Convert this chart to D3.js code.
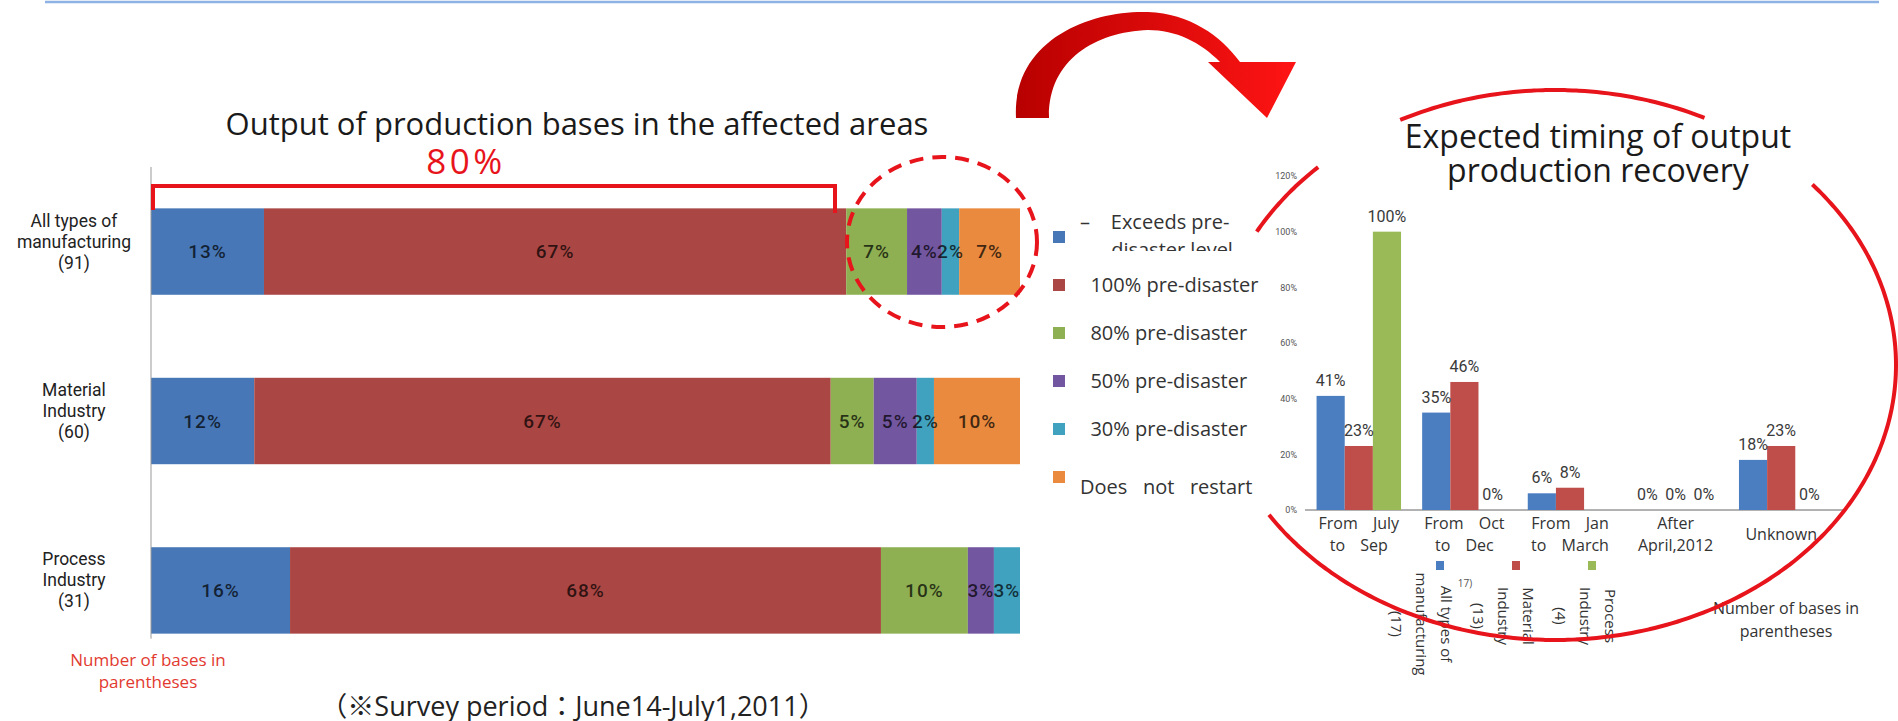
<!DOCTYPE html>
<html>
<head>
<meta charset="utf-8">
<script src="https://cdnjs.cloudflare.com/ajax/libs/d3/7.8.5/d3.min.js"></script>
<style>
body { margin: 0; background: #fff; }
text { font-family: "Open Sans", sans-serif; }
.narrow { font-family: Roboto, sans-serif; }
</style>
</head>
<body>
<div id="chart"></div>
<script>
// left chart: output level of production bases (% of bases)
var industryLabels = ["All types of\nmanufacturing\n(91)", "Material\nIndustry\n(60)", "Process\nIndustry\n(31)"];
var levelLabels = ["–    Exceeds pre-\n      disaster level", "  100% pre-disaster", "  80% pre-disaster", "  50% pre-disaster", "  30% pre-disaster", "Does   not   restart"];
var exceedsPct = [13, 12, 16];
var level100Pct = [67, 67, 68];
var level80Pct = [7, 5, 10];
var level50Pct = [4, 5, 3];
var level30Pct = [2, 2, 3];
var noRestartPct = [7, 10, 0];
var levelColors = ["#4777b6", "#aa4643", "#8eb052", "#7356a0", "#41a2bf", "#e98a3e"];

// right chart: expected timing of output recovery (% of bases)
var periodLabels = ["From July\nto Sep", "From Oct\nto Dec", "From Jan\nto March", "After\nApril,2012", "Unknown"];
var groupLabels = ["All types of\nmanufacturing\n(17)", "Material\nIndustry\n(13)", "Process\nIndustry\n(4)"];
var allTypesPct = [41, 35, 6, 0, 18];
var materialPct = [23, 46, 8, 0, 23];
var processPct = [100, 0, null, 0, 0];
var recoveryTicks = [0, 20, 40, 60, 80, 100, 120];
var groupColors = ["#4a7ec0", "#bf4d4a", "#9aba58"];

var svgWidth = 1898;
var svgHeight = 721;
var red = "#e8141c";

var svg = d3.select("#chart")
    .append("svg")
    .attr("width", svgWidth)
    .attr("height", svgHeight);

var defs = svg.append("defs");
var grad = defs.append("linearGradient").attr("id", "arrowGrad")
    .attr("x1", 0).attr("x2", 1).attr("y1", 0).attr("y2", 0);
grad.append("stop").attr("offset", "0%").attr("stop-color", "#b80000");
grad.append("stop").attr("offset", "100%").attr("stop-color", "#ff1414");

defs.append("clipPath").attr("id", "legendClip")
    .append("rect").attr("x", 1000).attr("y", 200).attr("width", 300).attr("height", 51);

// slide frame line at top
svg.append("line")
    .attr("x1", 45).attr("x2", 1879).attr("y1", 2).attr("y2", 2)
    .attr("stroke", "#8db2e3").attr("stroke-width", 2.5);

function multiLine(sel, str, x, y, step) {
    var lines = str.split("\n");
    lines.forEach(function (l, i) {
        sel.append("tspan").attr("x", x).attr("y", y + i * step).text(l);
    });
}

// ---------- left chart ----------
var rows = industryLabels.map(function (c, i) {
    var r = { cat: c };
    [exceedsPct, level100Pct, level80Pct, level50Pct, level30Pct, noRestartPct].forEach(function (s, j) {
        r[j] = s[i];
    });
    return r;
});

var stacked = d3.stack()
    .keys(d3.range(levelLabels.length))
    .offset(d3.stackOffsetExpand)(rows);

var xL = d3.scaleLinear().domain([0, 1]).range([151, 1020]);
var yL = d3.scaleBand().domain(industryLabels).range([166, 676])
    .paddingInner(0.49).paddingOuter(0.25);

var left = svg.append("g");

left.append("text")
    .attr("x", 577).attr("y", 135)
    .attr("text-anchor", "middle")
    .attr("font-size", 31).attr("fill", "#1a1a1a")
    .text("Output of production bases in the affected areas");

var seriesG = left.selectAll(".series")
    .data(stacked)
    .enter()
    .append("g")
    .attr("fill", d => levelColors[d.key]);

seriesG.selectAll("rect")
    .data(d => d)
    .enter()
    .append("rect")
    .attr("x", d => xL(d[0]))
    .attr("y", d => yL(d.data.cat))
    .attr("width", d => xL(d[1]) - xL(d[0]))
    .attr("height", yL.bandwidth());

stacked.forEach(function (s) {
    left.selectAll(".lbl" + s.key)
        .data(s.filter(d => d.data[s.key] > 0))
        .enter()
        .append("text")
        .attr("class", "narrow")
        .attr("x", d => (xL(d[0]) + xL(d[1])) / 2)
        .attr("y", d => yL(d.data.cat) + yL.bandwidth() / 2)
        .attr("dy", "0.36em")
        .attr("text-anchor", "middle")
        .attr("font-size", 19).attr("font-weight", 500)
        .attr("letter-spacing", 1)
        .attr("fill", "#000").attr("fill-opacity", 0.72)
        .text(d => d.data[s.key] + "%");
});

// category axis
left.append("line")
    .attr("x1", xL(0)).attr("x2", xL(0))
    .attr("y1", 167).attr("y2", yL(industryLabels[2]) + yL.bandwidth() + 5)
    .attr("stroke", "#999").attr("stroke-width", 1);

industryLabels.forEach(function (c) {
    var n = c.split("\n").length;
    var cy = yL(c) + yL.bandwidth() / 2 - 10;
    var t = left.append("text")
        .attr("class", "narrow")
        .attr("text-anchor", "middle")
        .attr("font-size", 17.5).attr("fill", "#222");
    multiLine(t, c, 74, cy - (n - 1) * 21 / 2 + 6, 21);
});

var note1 = left.append("text")
    .attr("text-anchor", "middle")
    .attr("font-size", 17).attr("fill", "#e23a30");
multiLine(note1, "Number of bases in\nparentheses", 148, 666, 22);

left.append("text")
    .attr("x", 573).attr("y", 716)
    .attr("text-anchor", "middle")
    .attr("font-size", 27).attr("fill", "#222")
    .style("font-family", "'Open Sans', 'Noto Sans CJK JP', sans-serif")
    .text("（※Survey period：June14-July1,2011）");

// legend
var legY = d3.scalePoint().domain(d3.range(levelLabels.length)).range([237, 477]);
var legend = left.selectAll(".leg")
    .data(levelLabels)
    .enter()
    .append("g");

legend.append("rect")
    .attr("x", 1053).attr("y", (d, i) => legY(i) - 6)
    .attr("width", 12).attr("height", 12)
    .attr("fill", (d, i) => levelColors[i]);

legend.each(function (d, i) {
    var n = d.split("\n").length;
    var base = legY(i) + 7 - (n - 1) * 15 + (i === levelLabels.length - 1 ? 10 : 0);
    var t = d3.select(this).append("text")
        .attr("xml:space", "preserve")
        .style("white-space", "pre")
        .attr("font-size", 20).attr("fill", "#333");
    if (n > 1) t.attr("clip-path", "url(#legendClip)");
    multiLine(t, d, 1080, base, 28);
});

// ---------- right chart ----------
var right = svg.append("g");

var xR = d3.scaleBand().domain(periodLabels).range([1306, 1834])
    .paddingInner(0.2).paddingOuter(0.1);
var xSub = d3.scaleBand().domain(groupLabels).range([0, xR.bandwidth()]);
var yR = d3.scaleLinear().domain([0, 120]).range([510, 176]);

var rt = right.append("text")
    .attr("text-anchor", "middle")
    .attr("font-size", 32).attr("fill", "#1a1a1a");
multiLine(rt, "Expected timing of output\nproduction recovery", 1598, 148, 34);

var yAxisR = right.append("g")
    .attr("transform", "translate(1297,0)")
    .call(d3.axisLeft(yR).tickValues(recoveryTicks).tickFormat(d => d + "%").tickSize(0));
yAxisR.select(".domain").remove();
yAxisR.selectAll("text")
    .attr("class", "narrow")
    .attr("font-size", 9).attr("fill", "#555")
    .attr("x", 0);

right.append("line")
    .attr("x1", xR.range()[0] - 1).attr("x2", xR.range()[1] + 11)
    .attr("y1", yR(0)).attr("y2", yR(0))
    .attr("stroke", "#999").attr("stroke-width", 1.5);

var groupRows = periodLabels.map(function (p, i) {
    return [allTypesPct[i], materialPct[i], processPct[i]].map(function (v, k) {
        return { period: p, group: groupLabels[k], k: k, v: v };
    }).filter(d => d.v !== null);
});

var periodG = right.selectAll(".period")
    .data(groupRows)
    .enter()
    .append("g")
    .attr("transform", (d, i) => `translate(${xR(periodLabels[i])},0)`);

periodG.selectAll("rect")
    .data(d => d)
    .enter()
    .append("rect")
    .attr("x", d => xSub(d.group))
    .attr("y", d => yR(d.v))
    .attr("width", xSub.bandwidth())
    .attr("height", d => yR(0) - yR(d.v))
    .attr("fill", d => groupColors[d.k]);

periodG.selectAll("text")
    .data(d => d)
    .enter()
    .append("text")
    .attr("class", "narrow")
    .attr("x", d => xSub(d.group) + xSub.bandwidth() / 2)
    .attr("y", d => yR(d.v) - 10)
    .attr("text-anchor", "middle")
    .attr("font-size", 16).attr("fill", "#3a3a3a")
    .text(d => d.v + "%");

periodLabels.forEach(function (p) {
    var n = p.split("\n").length;
    var t = right.append("text")
        .attr("text-anchor", "middle")
        .attr("font-size", 16).attr("fill", "#333")
        .attr("word-spacing", 11);
    multiLine(t, p, xR(p) + xR.bandwidth() / 2, 540 - (n - 1) * 11, 22);
});

// series legend with rotated names
var legX = d3.scalePoint().domain(groupLabels).range([1440, 1592]);
var legTextX = d3.scalePoint().domain(groupLabels).range([1446, 1610]);
groupLabels.forEach(function (g, k) {
    right.append("rect")
        .attr("x", legX(g) - 4).attr("y", 561)
        .attr("width", 8).attr("height", 9)
        .attr("fill", groupColors[k]);
    var t = right.append("text")
        .attr("transform", `translate(${legTextX(g) - 5},${k === 0 ? 624 : 616}) rotate(90)`)
        .attr("text-anchor", "middle")
        .attr("font-size", 15).attr("fill", "#333");
    g.split("\n").forEach(function (l, i) {
        t.append("tspan").attr("x", 0).attr("y", i * 25).text(l);
    });
});
right.append("text")
    .attr("x", 1465).attr("y", 587)
    .attr("text-anchor", "middle")
    .attr("font-size", 10).attr("fill", "#555")
    .text("17)");

var note2 = right.append("text")
    .attr("text-anchor", "middle")
    .attr("font-size", 16).attr("fill", "#333");
multiLine(note2, "Number of bases in\nparentheses", 1786, 614, 23);

// ---------- red annotations ----------
var deco = svg.append("g");

deco.append("path")
    .attr("d", "M153,210 L153,186 L835,186 L835,213")
    .attr("fill", "none").attr("stroke", red).attr("stroke-width", 4);

deco.append("text")
    .attr("x", 466).attr("y", 174)
    .attr("text-anchor", "middle")
    .attr("font-size", 35).attr("letter-spacing", 3.5)
    .attr("fill", red)
    .text("80%");

deco.append("ellipse")
    .attr("cx", 942).attr("cy", 242).attr("rx", 95).attr("ry", 85)
    .attr("fill", "none").attr("stroke", red).attr("stroke-width", 4)
    .attr("stroke-dasharray", "14,9");

deco.append("path")
    .attr("d", "M1016,118 C1012,40 1090,10 1148,12 C1190,14 1220,35 1240,62 L1296,62 L1267,118 L1208,62 L1220,62 C1200,42 1176,30 1148,30 C1095,32 1048,60 1049,118 Z")
    .attr("fill", "url(#arrowGrad)");

var ell = { cx: 1555, cy: 365, rx: 341, ry: 275 };
var arcLine = d3.line()
    .x(a => ell.cx + ell.rx * Math.cos(a * Math.PI / 180))
    .y(a => ell.cy + ell.ry * Math.sin(a * Math.PI / 180))
    .curve(d3.curveCatmullRom);
[[-151, -134], [-117, -64], [-41, 147]].forEach(function (r) {
    deco.append("path")
        .attr("d", arcLine(d3.range(r[0], r[1] + 0.5, 1)))
        .attr("fill", "none").attr("stroke", red).attr("stroke-width", 4);
});
</script>
</body>
</html>
